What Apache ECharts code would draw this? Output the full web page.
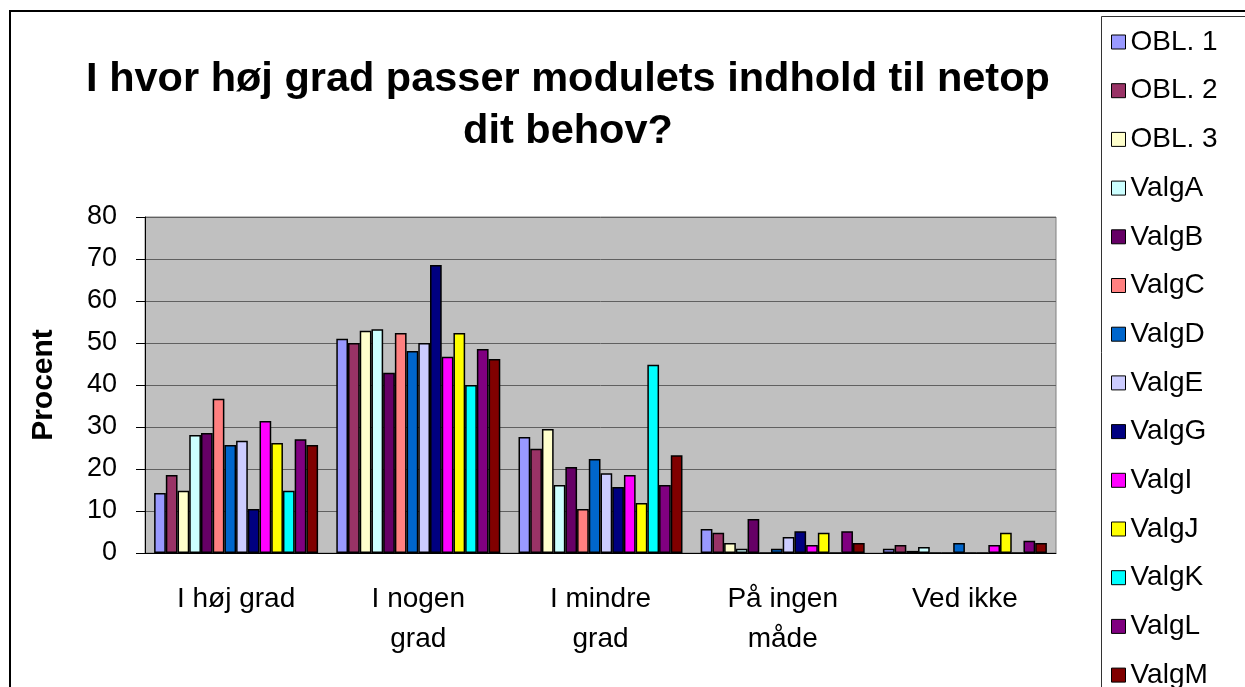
<!DOCTYPE html>
<html>
<head>
<meta charset="utf-8">
<script src="https://cdn.jsdelivr.net/npm/echarts@6/dist/echarts.min.js"></script>
<style>
  html, body { margin: 0; padding: 0; background: #fff; }
  #chart { width: 1245px; height: 687px; }
</style>
</head>
<body>
<div id="chart"></div>
<script>
// kategorier (x-akse)
var categories = ['I høj grad', 'I nogen\ngrad', 'I mindre\ngrad', 'På ingen\nmåde', 'Ved ikke'];
var yTicks = [0, 10, 20, 30, 40, 50, 60, 70, 80];

// procent pr. modul
var obl1  = [14.3, 51.0, 27.6, 5.7, 1.0];
var obl2  = [18.6, 50.0, 24.8, 4.8, 1.9];
var obl3  = [14.8, 52.9, 29.5, 2.4, 0.5];
var valgA = [28.1, 53.3, 16.2, 1.0, 1.4];
var valgB = [28.6, 42.9, 20.5, 8.1, 0];
var valgC = [36.7, 52.4, 10.5, 0, 0];
var valgD = [25.7, 48.1, 22.4, 1.0, 2.4];
var valgE = [26.7, 50.0, 19.0, 3.8, 0];
var valgG = [10.5, 68.6, 15.7, 5.2, 0];
var valgI = [31.4, 46.7, 18.6, 1.9, 1.9];
var valgJ = [26.2, 52.4, 11.9, 4.8, 4.8];
var valgK = [14.8, 40.0, 44.8, 0, 0];
var valgL = [27.1, 48.6, 16.2, 5.2, 2.9];
var valgM = [25.7, 46.2, 23.3, 2.4, 2.4];

var seriesNames = ['OBL. 1', 'OBL. 2', 'OBL. 3', 'ValgA', 'ValgB', 'ValgC', 'ValgD',
                   'ValgE', 'ValgG', 'ValgI', 'ValgJ', 'ValgK', 'ValgL', 'ValgM'];
var seriesData = [obl1, obl2, obl3, valgA, valgB, valgC, valgD,
                  valgE, valgG, valgI, valgJ, valgK, valgL, valgM];
var colors = ['#9999FF', '#993366', '#FFFFCC', '#CCFFFF', '#660066', '#FF8080', '#0066CC',
              '#CCCCFF', '#000080', '#FF00FF', '#FFFF00', '#00FFFF', '#800080', '#800000'];

var font = '"Liberation Sans", Arial, sans-serif';

var myChart = echarts.init(document.getElementById('chart'));

var series = [];
for (var i = 0; i < seriesNames.length; i++) {
    series.push({
        name: seriesNames[i],
        type: 'bar',
        data: seriesData[i],
        barGap: '0%',
        barCategoryGap: '10%',
        itemStyle: {
            color: colors[i],
            borderColor: '#000',
            borderWidth: 1.5
        }
    });
}

option = {
    backgroundColor: '#fff',
    animation: false,
    title: {
        text: 'I hvor høj grad passer modulets indhold til netop\ndit behov?',
        left: 568,
        top: 54,
        padding: 0,
        textAlign: 'center',
        textStyle: {
            fontFamily: font,
            fontSize: 41.5,
            fontWeight: 'bold',
            color: '#000',
            lineHeight: 52
        }
    },
    legend: {
        orient: 'vertical',
        left: 1111,
        top: 28,
        height: 720,
        padding: 0,
        itemWidth: 14,
        itemHeight: 14,
        itemGap: 20.7,
        itemStyle: { borderWidth: 1, borderColor: '#000' },
        selectedMode: false,
        icon: 'rect',
        textStyle: {
            fontFamily: font,
            fontSize: 28,
            lineHeight: 28,
            color: '#000'
        },
        data: seriesNames
    },
    grid: {
        left: 145,
        right: 189,
        top: 217,
        bottom: 134,
        show: true,
        backgroundColor: '#C0C0C0',
        borderColor: '#808080',
        borderWidth: 1
    },
    xAxis: {
        type: 'category',
        data: categories,
        axisLine: { lineStyle: { color: '#000', width: 1 } },
        axisTick: { length: 10, lineStyle: { color: '#000' } },
        axisLabel: {
            interval: 0,
            margin: 26,
            fontFamily: font,
            fontSize: 28,
            lineHeight: 40,
            color: '#000'
        }
    },
    yAxis: {
        type: 'value',
        min: 0,
        max: 80,
        interval: 10,
        name: 'Procent',
        nameLocation: 'middle',
        nameGap: 86,
        nameTextStyle: {
            fontFamily: font,
            fontSize: 30,
            fontWeight: 'bold',
            color: '#000'
        },
        axisLine: { show: true, lineStyle: { color: '#000', width: 1 } },
        axisTick: { show: true, length: 9, lineStyle: { color: '#000' } },
        axisLabel: {
            margin: 28,
            fontFamily: font,
            fontSize: 27,
            color: '#000',
            formatter: function (v) { return yTicks.indexOf(v) >= 0 ? String(v) : ''; }
        },
        splitLine: { lineStyle: { color: '#606060', width: 1 } }
    },
    graphic: [
        {
            type: 'rect',
            shape: { x: 10, y: 11, width: 1400, height: 1000 },
            style: { fill: 'none', stroke: '#000', lineWidth: 2 },
            silent: true
        },
        {
            type: 'rect',
            shape: { x: 1101.5, y: 16.5, width: 300, height: 800 },
            style: { fill: 'none', stroke: '#333', lineWidth: 1 },
            silent: true
        }
    ],
    series: series
};
myChart.setOption(option);
</script>
</body>
</html>
